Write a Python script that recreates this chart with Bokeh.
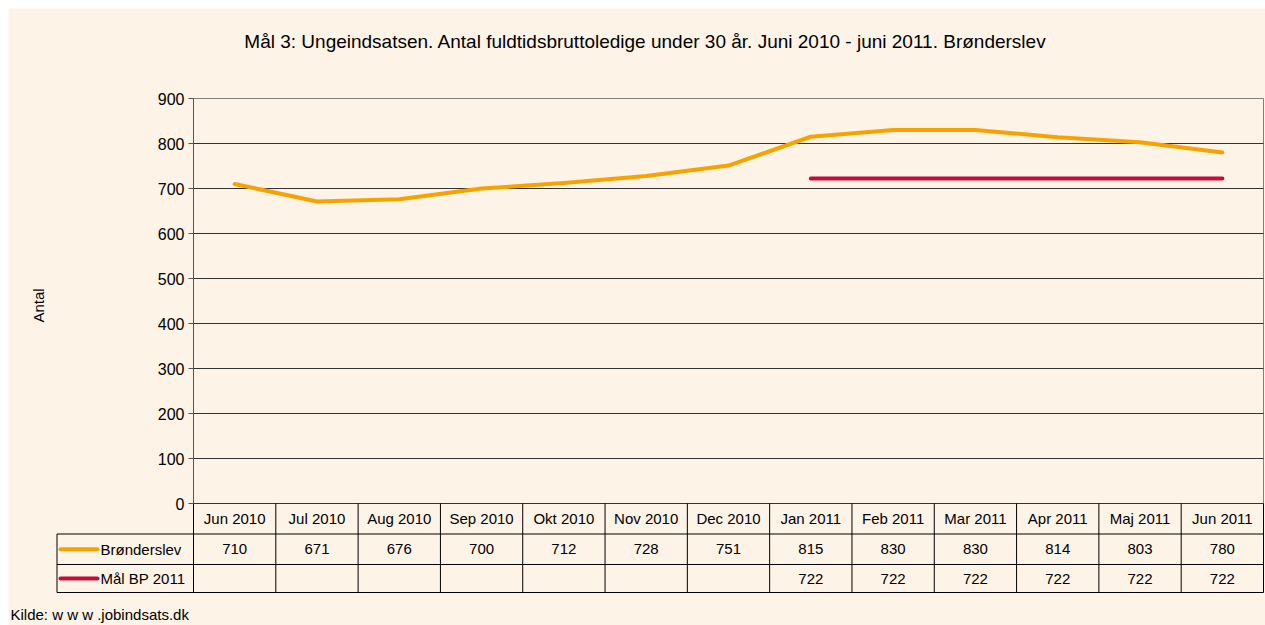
import math
from bokeh.plotting import figure
from bokeh.models import Range1d, FixedTicker, Label
from bokeh.embed import file_html
from bokeh.resources import INLINE
from bokeh.core.properties import value

# ---------------- data ----------------
months = ["Jun 2010", "Jul 2010", "Aug 2010", "Sep 2010", "Okt 2010", "Nov 2010",
          "Dec 2010", "Jan 2011", "Feb 2011", "Mar 2011", "Apr 2011", "Maj 2011", "Jun 2011"]
bronderslev = [710, 671, 676, 700, 712, 728, 751, 815, 830, 830, 814, 803, 780]
maal_bp_2011 = [None, None, None, None, None, None, None, 722, 722, 722, 722, 722, 722]
series_names = ["Brønderslev", "Mål BP 2011"]
y_ticks = [0, 100, 200, 300, 400, 500, 600, 700, 800, 900]
title_text = "Mål 3: Ungeindsatsen. Antal fuldtidsbruttoledige under 30 år. Juni 2010 - juni 2011. Brønderslev"
y_label = "Antal"
source_text = "Kilde: w w w .jobindsats.dk"

# ---------------- style / layout (page pixels) ----------------
BG = "#FDF3E6"
ORANGE = "#F8A200"
MAROON = "#BF0F3C"
FONT = "Liberation Sans"

n = len(months)
Y_MAX = y_ticks[-1]
PLOT_L, PLOT_R = 193.0, 1263.0     # plot area, page px
PLOT_T, PLOT_B = 98.0, 503.0
colw = (PLOT_R - PLOT_L) / n
ypp = Y_MAX / (PLOT_B - PLOT_T)     # data units per pixel


def X(px):
    return (px - PLOT_L) / colw


def Y(py):
    return (PLOT_B - py) * ypp


W, H = 1257, 617
FRAME_PX_L = 8
p = figure(width=W, height=H,
           x_range=Range1d(X(FRAME_PX_L), X(8 + W)), y_range=Range1d(Y(8 + H), Y(8)),
           output_backend="svg", toolbar_location=None, x_axis_location=None,
           min_border_left=0, min_border_right=0,
           min_border_top=0, min_border_bottom=0,
           background_fill_color=BG, border_fill_color=BG, outline_line_color=None)
p.grid.grid_line_color = None

# y axis placed at x = 0 (left edge of the plot area)
p.yaxis.fixed_location = 0
p.yaxis.bounds = (0, Y_MAX)
p.yaxis.ticker = FixedTicker(ticks=y_ticks)
p.yaxis.major_tick_out = 5
p.yaxis.major_tick_in = 0
p.yaxis.minor_tick_line_color = None
p.yaxis.axis_line_color = "#555555"
p.yaxis.major_tick_line_color = "#555555"
p.yaxis.major_label_text_font = FONT
p.yaxis.major_label_text_font_size = "16px"
p.yaxis.major_label_text_color = "#000000"
p.yaxis.major_label_standoff = 4

# plot-area border and gridlines
p.quad(left=[0], right=[n], bottom=[0], top=[Y_MAX], fill_color=None,
       line_color="#808080", line_width=1)
gt = y_ticks[:-1]
p.segment(x0=[0] * len(gt), x1=[n] * len(gt), y0=gt, y1=gt, line_color="#333333", line_width=1)

xs = [i + 0.5 for i in range(n)]
maal_y = [float("nan") if v is None else v for v in maal_bp_2011]
p.line(xs, bronderslev, line_color=ORANGE, line_width=4, line_join="round", line_cap="round")
p.line(xs, maal_y, line_color=MAROON, line_width=4, line_join="round", line_cap="round")

# title and axis label
p.text(x=[X(645)], y=[Y(41)], text=[title_text], text_font=value(FONT), text_font_size="19px",
       text_color="#000000", text_align="center", text_baseline="middle")
p.text(x=[X(38)], y=[Y(305)], text=[y_label], angle=math.pi / 2,
       text_align="center", text_baseline="middle",
       text_font=value(FONT), text_font_size="15px", text_color="#000000")

# ---------------- data table ----------------
r0, r1, r2, r3 = Y(503), Y(533.5), Y(564), Y(592)
tl = X(56.5)
hy = [r1, r2, r3]
p.segment(x0=[tl] * 3, y0=hy, x1=[n] * 3, y1=hy, line_color="#000000", line_width=1)
vx = [tl] + list(range(n + 1))
vy0 = [r1] + [r0] * (n + 1)
vy1 = [r3] * (n + 2)
p.segment(x0=vx, y0=vy0, x1=vx, y1=vy1, line_color="#000000", line_width=1)

tkw = dict(text_font=value(FONT), text_font_size="15px", text_color="#000000",
           text_align="center", text_baseline="middle")
p.text(x=xs, y=[(r0 + r1) / 2] * n, text=months, **tkw)
p.text(x=xs, y=[(r1 + r2) / 2] * n, text=[str(v) for v in bronderslev], **tkw)
p.text(x=xs, y=[(r2 + r3) / 2] * n, text=["" if v is None else str(v) for v in maal_bp_2011], **tkw)

rows_y = [(r1 + r2) / 2, (r2 + r3) / 2]
p.segment(x0=[X(60), X(60)], y0=rows_y, x1=[X(97), X(97)], y1=rows_y,
          line_color=[ORANGE, MAROON], line_width=4, line_cap="round")
lkw = dict(tkw)
lkw["text_align"] = "left"
p.text(x=[X(100), X(100)], y=rows_y, text=series_names, **lkw)
p.text(x=[X(10)], y=[Y(614)], text=[source_text], **lkw)

p.margin = (8, 0, 0, 8)
open("out.html", "w").write(file_html(p, INLINE))
